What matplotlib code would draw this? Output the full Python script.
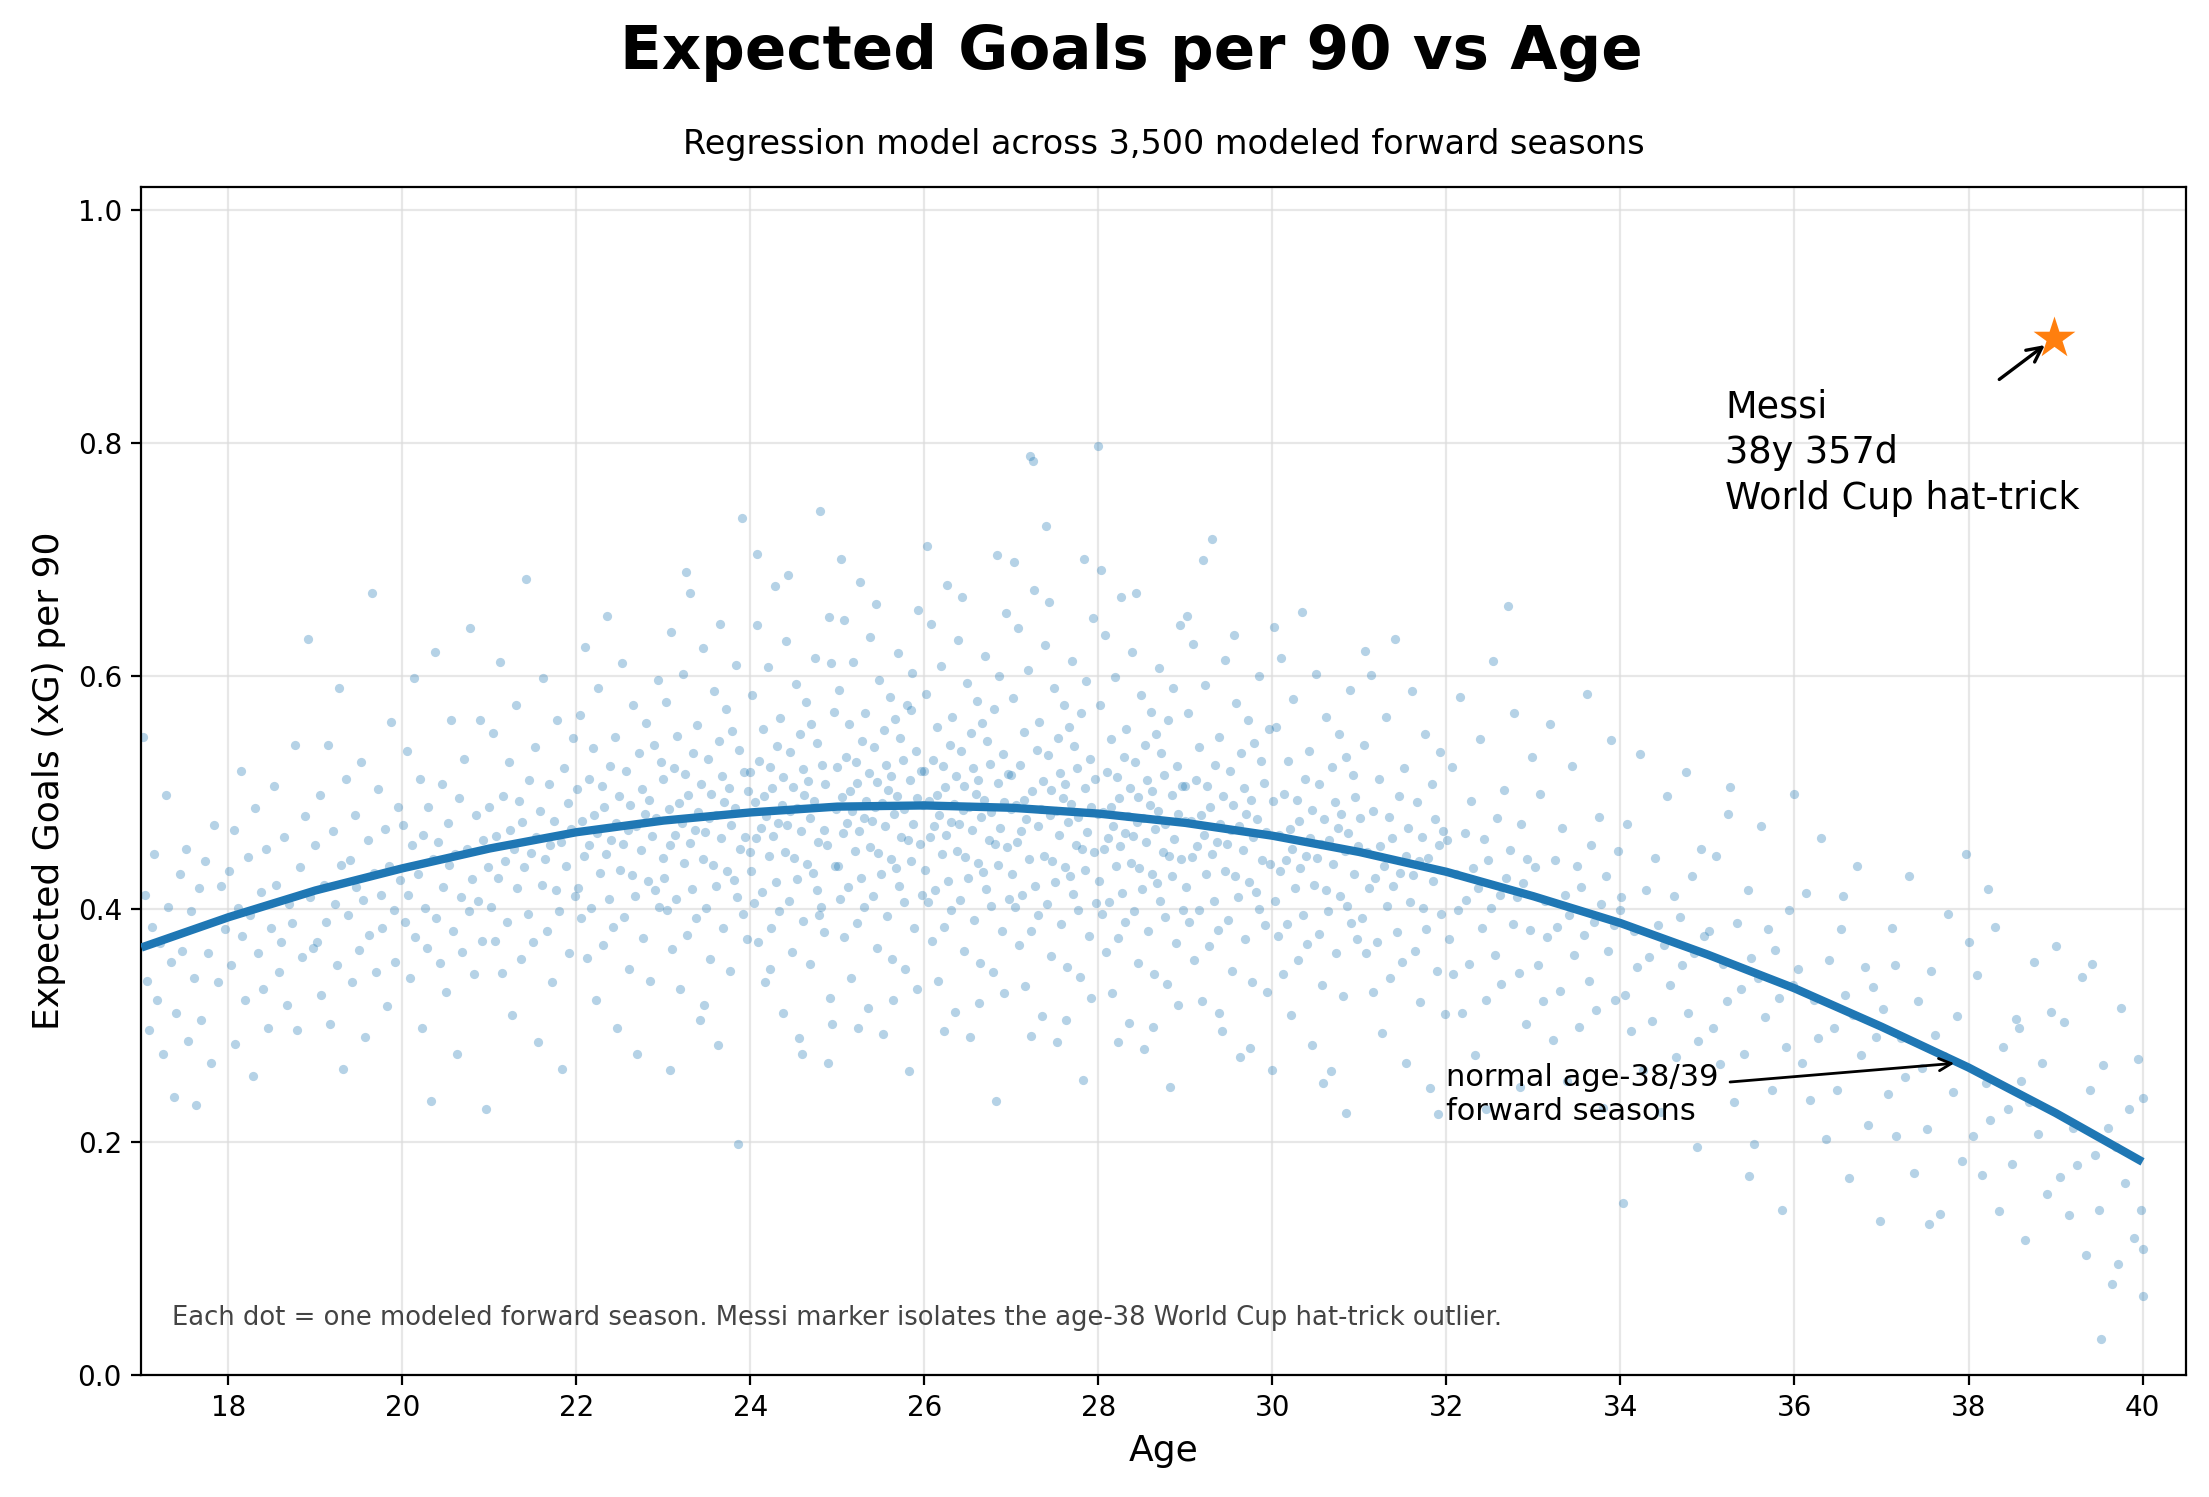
"""Expected goals per 90 vs age, with the Messi World Cup hat-trick outlier."""

import matplotlib

matplotlib.use("Agg")

import matplotlib.pyplot as plt
import numpy as np

TITLE = "Expected Goals per 90 vs Age"
SUBTITLE = "Regression model across 3,500 modeled forward seasons"
FOOTNOTE = "Each dot = one modeled forward season. Messi marker isolates the age-38 World Cup hat-trick outlier."
MESSI_LABEL = "Messi\n38y 357d\nWorld Cup hat-trick"
NORMAL_LABEL = "normal age-38/39\nforward seasons"

X_TICKS = [18, 20, 22, 24, 26, 28, 30, 32, 34, 36, 38, 40]
Y_TICKS = [0.0, 0.2, 0.4, 0.6, 0.8, 1.0]

# regression curve at whole ages
FIT_AGES = [17, 18, 19, 20, 21, 22, 23, 24, 25, 26, 27, 28,
            29, 30, 31, 32, 33, 34, 35, 36, 37, 38, 39, 40]
FIT_XG = [0.367, 0.393, 0.416, 0.435, 0.452, 0.466, 0.476, 0.483, 0.488, 0.489, 0.487, 0.482,
          0.474, 0.463, 0.449, 0.432, 0.411, 0.388, 0.361, 0.332, 0.299, 0.264, 0.225, 0.183]

MESSI_AGE = 38.98
MESSI_XG = 0.89

# modeled seasons as (age x100, xG per 90 x1000)
SEASONS_17_21 = [
    (1702, 548), (1704, 412), (1706, 338), (1709, 296), (1712, 385), (1715, 447), (1718, 322), (1721, 371),
    (1725, 276), (1728, 498), (1731, 402), (1734, 355), (1737, 239), (1740, 311), (1744, 430), (1747, 364),
    (1751, 452), (1754, 287), (1757, 398), (1760, 341), (1763, 232), (1766, 418), (1769, 305), (1773, 441),
    (1776, 362), (1780, 268), (1784, 472), (1788, 337), (1792, 420), (1796, 383),
    (1801, 433), (1803, 352), (1806, 468), (1808, 284), (1811, 401), (1814, 519), (1816, 377), (1819, 322),
    (1822, 445), (1825, 395), (1828, 257), (1831, 487), (1834, 362), (1837, 415), (1840, 331), (1843, 452),
    (1846, 298), (1849, 384), (1852, 506), (1855, 421), (1858, 346), (1861, 372), (1864, 462), (1867, 318),
    (1870, 404), (1873, 388), (1876, 541), (1879, 296), (1882, 436), (1885, 359), (1888, 480), (1891, 632),
    (1894, 410), (1897, 367),
    (1900, 455), (1902, 372), (1905, 498), (1907, 326), (1910, 421), (1912, 389), (1915, 541), (1917, 301),
    (1920, 467), (1922, 404), (1925, 352), (1927, 590), (1930, 438), (1932, 263), (1935, 512), (1937, 395),
    (1940, 442), (1942, 337), (1945, 481), (1947, 419), (1950, 365), (1952, 526), (1955, 408), (1957, 290),
    (1960, 459), (1962, 378), (1965, 671), (1967, 431), (1970, 346), (1972, 503), (1975, 412), (1977, 384),
    (1980, 469), (1982, 317), (1985, 437), (1987, 561), (1990, 399), (1992, 355), (1995, 488), (1997, 425),
    (2001, 472), (2003, 389), (2005, 536), (2007, 412), (2009, 341), (2011, 455), (2013, 598), (2015, 376),
    (2018, 430), (2020, 512), (2022, 298), (2024, 464), (2026, 401), (2028, 367), (2030, 488), (2033, 235),
    (2035, 443), (2037, 621), (2039, 392), (2041, 458), (2043, 354), (2045, 507), (2047, 419), (2050, 329),
    (2052, 474), (2054, 438), (2056, 562), (2058, 381), (2061, 447), (2063, 276), (2065, 495), (2067, 410),
    (2069, 363), (2071, 529), (2074, 452), (2076, 398), (2078, 641), (2080, 426), (2082, 344), (2085, 481),
    (2087, 407), (2089, 562), (2091, 373), (2093, 459), (2096, 228), (2098, 436),
    (2100, 488), (2102, 402), (2104, 551), (2106, 373), (2108, 463), (2110, 427), (2112, 612), (2114, 345),
    (2116, 497), (2118, 441), (2120, 389), (2122, 526), (2124, 468), (2126, 309), (2128, 452), (2130, 575),
    (2132, 418), (2134, 493), (2136, 357), (2138, 475), (2140, 436), (2142, 683), (2144, 396), (2146, 511),
    (2148, 448), (2150, 372), (2152, 539), (2154, 462), (2156, 286), (2158, 484), (2160, 421), (2162, 598),
    (2164, 443), (2166, 381), (2168, 507), (2170, 455), (2172, 337), (2174, 476), (2176, 416), (2178, 562),
    (2180, 398), (2182, 458), (2184, 263), (2186, 521), (2188, 437), (2190, 491), (2192, 362), (2194, 469),
    (2196, 547), (2198, 411),
]

SEASONS_22_25 = [
    (2201, 503), (2202, 418), (2204, 567), (2205, 392), (2207, 476), (2209, 446), (2210, 625), (2212, 358),
    (2214, 512), (2215, 455), (2217, 401), (2219, 538), (2220, 481), (2222, 322), (2224, 465), (2225, 590),
    (2227, 431), (2229, 506), (2230, 369), (2232, 488), (2234, 447), (2235, 652), (2237, 409), (2239, 523),
    (2240, 459), (2242, 385), (2244, 548), (2245, 474), (2247, 298), (2249, 497), (2250, 434), (2252, 611),
    (2254, 456), (2255, 393), (2257, 519), (2259, 468), (2260, 349), (2262, 489), (2264, 429), (2265, 575),
    (2267, 411), (2269, 471), (2270, 276), (2272, 534), (2274, 451), (2275, 503), (2277, 375), (2279, 482),
    (2280, 560), (2282, 424), (2284, 494), (2285, 338), (2287, 463), (2289, 541), (2290, 416), (2292, 478),
    (2294, 597), (2295, 402), (2297, 526), (2299, 444),
    (2300, 512), (2301, 427), (2303, 578), (2304, 399), (2306, 486), (2307, 455), (2309, 638), (2310, 366),
    (2312, 521), (2313, 464), (2315, 409), (2316, 549), (2318, 491), (2319, 331), (2321, 474), (2322, 602),
    (2324, 440), (2325, 516), (2327, 378), (2328, 498), (2330, 457), (2331, 671), (2333, 417), (2334, 534),
    (2336, 468), (2337, 392), (2339, 558), (2340, 483), (2342, 305), (2343, 507), (2345, 443), (2346, 624),
    (2348, 466), (2349, 401), (2351, 529), (2352, 478), (2354, 357), (2355, 499), (2357, 438), (2358, 587),
    (2360, 420), (2361, 481), (2363, 283), (2364, 544), (2366, 461), (2367, 514), (2369, 384), (2370, 492),
    (2372, 572), (2373, 433), (2375, 504), (2376, 347), (2378, 472), (2379, 553), (2381, 425), (2382, 487),
    (2384, 610), (2385, 410), (2387, 537), (2388, 452), (2390, 736), (2391, 396), (2393, 518), (2394, 462),
    (2396, 374), (2397, 501), (2399, 449), (2308, 262), (2326, 689), (2347, 318), (2365, 645), (2386, 198),
    (2400, 518), (2401, 433), (2402, 584), (2404, 405), (2405, 492), (2406, 461), (2408, 644), (2409, 372),
    (2410, 527), (2412, 470), (2413, 415), (2414, 555), (2416, 497), (2417, 337), (2418, 480), (2420, 608),
    (2421, 446), (2422, 522), (2424, 384), (2425, 504), (2426, 463), (2428, 677), (2429, 423), (2430, 540),
    (2432, 474), (2433, 398), (2434, 564), (2436, 489), (2437, 311), (2438, 513), (2440, 449), (2441, 630),
    (2442, 472), (2444, 407), (2445, 535), (2446, 484), (2448, 363), (2449, 505), (2450, 444), (2452, 593),
    (2453, 426), (2454, 487), (2456, 289), (2457, 550), (2458, 467), (2460, 520), (2461, 390), (2462, 498),
    (2464, 578), (2465, 439), (2466, 510), (2468, 353), (2469, 478), (2470, 559), (2472, 431), (2473, 493),
    (2474, 616), (2476, 416), (2477, 543), (2478, 458), (2480, 742), (2481, 402), (2482, 524), (2484, 468),
    (2485, 380), (2486, 507), (2488, 455), (2489, 268), (2490, 651), (2492, 324), (2493, 611), (2494, 301),
    (2496, 569), (2497, 437), (2498, 486), (2407, 705), (2423, 349), (2443, 687), (2459, 276), (2479, 395),
    (2500, 522), (2501, 437), (2502, 588), (2503, 409), (2505, 496), (2506, 465), (2507, 648), (2508, 376),
    (2510, 531), (2511, 474), (2512, 419), (2513, 559), (2515, 501), (2516, 341), (2517, 484), (2518, 612),
    (2520, 450), (2521, 526), (2522, 388), (2523, 508), (2525, 467), (2526, 681), (2527, 427), (2528, 544),
    (2530, 478), (2531, 402), (2532, 568), (2533, 493), (2535, 315), (2536, 517), (2537, 453), (2538, 634),
    (2540, 476), (2541, 411), (2542, 539), (2543, 488), (2545, 367), (2546, 509), (2547, 448), (2548, 597),
    (2550, 430), (2551, 491), (2552, 293), (2553, 554), (2555, 471), (2556, 524), (2557, 394), (2558, 502),
    (2560, 582), (2561, 443), (2562, 514), (2563, 357), (2565, 482), (2566, 563), (2567, 435), (2568, 497),
    (2570, 620), (2571, 420), (2572, 547), (2573, 462), (2575, 528), (2576, 406), (2577, 486), (2578, 349),
    (2580, 575), (2581, 459), (2582, 261), (2583, 511), (2585, 441), (2586, 603), (2587, 473), (2588, 384),
    (2590, 536), (2591, 495), (2592, 331), (2593, 657), (2595, 456), (2596, 519), (2597, 412), (2598, 489),
    (2504, 701), (2524, 298), (2544, 662), (2564, 322), (2584, 571),
]

SEASONS_26_29 = [
    (2600, 519), (2601, 434), (2602, 585), (2604, 406), (2605, 493), (2606, 462), (2607, 645), (2609, 373),
    (2610, 528), (2611, 471), (2612, 416), (2614, 556), (2615, 498), (2616, 338), (2617, 481), (2619, 609),
    (2620, 447), (2621, 523), (2622, 385), (2624, 505), (2625, 464), (2626, 678), (2627, 424), (2629, 541),
    (2630, 475), (2631, 399), (2632, 565), (2634, 490), (2635, 312), (2636, 514), (2637, 450), (2639, 631),
    (2640, 473), (2641, 408), (2642, 536), (2644, 485), (2645, 364), (2646, 506), (2647, 445), (2649, 594),
    (2650, 427), (2651, 488), (2652, 290), (2654, 551), (2655, 468), (2656, 521), (2657, 391), (2659, 499),
    (2660, 579), (2661, 440), (2662, 511), (2664, 354), (2665, 479), (2666, 560), (2667, 432), (2669, 494),
    (2670, 617), (2671, 417), (2672, 544), (2674, 459), (2675, 525), (2676, 403), (2677, 483), (2679, 346),
    (2680, 572), (2681, 456), (2682, 235), (2684, 508), (2685, 438), (2686, 600), (2687, 470), (2689, 381),
    (2690, 533), (2691, 492), (2692, 328), (2694, 654), (2695, 453), (2696, 516), (2697, 409), (2699, 486),
    (2603, 712), (2623, 295), (2643, 668), (2663, 319), (2683, 704),
    (2700, 515), (2701, 430), (2702, 581), (2704, 402), (2705, 489), (2706, 458), (2707, 641), (2709, 369),
    (2710, 524), (2711, 467), (2712, 412), (2714, 552), (2715, 494), (2716, 334), (2717, 477), (2719, 605),
    (2720, 443), (2721, 789), (2722, 381), (2724, 501), (2725, 785), (2726, 674), (2727, 420), (2729, 537),
    (2730, 471), (2731, 395), (2732, 561), (2734, 486), (2735, 308), (2736, 510), (2737, 446), (2739, 627),
    (2740, 729), (2741, 404), (2742, 532), (2744, 481), (2745, 360), (2746, 502), (2747, 441), (2749, 590),
    (2750, 423), (2751, 484), (2752, 286), (2754, 547), (2755, 464), (2756, 517), (2757, 387), (2759, 495),
    (2760, 575), (2761, 436), (2762, 507), (2764, 350), (2765, 475), (2766, 556), (2767, 428), (2769, 490),
    (2770, 613), (2771, 413), (2772, 540), (2774, 455), (2775, 521), (2776, 399), (2777, 479), (2779, 342),
    (2780, 568), (2781, 452), (2782, 253), (2784, 504), (2785, 434), (2786, 596), (2787, 466), (2789, 377),
    (2790, 529), (2791, 488), (2792, 324), (2794, 650), (2795, 449), (2796, 512), (2797, 405), (2799, 482),
    (2703, 698), (2723, 291), (2743, 664), (2763, 305), (2783, 701),
    (2800, 798), (2801, 424), (2802, 575), (2804, 396), (2805, 483), (2806, 452), (2807, 635), (2809, 363),
    (2810, 518), (2811, 461), (2812, 406), (2814, 546), (2815, 488), (2816, 328), (2817, 471), (2819, 599),
    (2820, 437), (2821, 513), (2822, 375), (2824, 495), (2825, 454), (2826, 668), (2827, 414), (2829, 531),
    (2830, 465), (2831, 389), (2832, 555), (2834, 480), (2835, 302), (2836, 504), (2837, 440), (2839, 621),
    (2840, 463), (2841, 398), (2842, 526), (2844, 475), (2845, 354), (2846, 496), (2847, 435), (2849, 584),
    (2850, 417), (2851, 478), (2852, 280), (2854, 541), (2855, 458), (2856, 511), (2857, 381), (2859, 489),
    (2860, 569), (2861, 430), (2862, 501), (2864, 344), (2865, 469), (2866, 550), (2867, 422), (2869, 484),
    (2870, 607), (2871, 407), (2872, 534), (2874, 449), (2875, 515), (2876, 393), (2877, 473), (2879, 336),
    (2880, 562), (2881, 446), (2882, 247), (2884, 498), (2885, 428), (2886, 590), (2887, 460), (2889, 371),
    (2890, 523), (2891, 482), (2892, 318), (2894, 644), (2895, 443), (2896, 506), (2897, 399), (2899, 476),
    (2803, 691), (2823, 286), (2843, 671), (2863, 299),
    (2900, 506), (2901, 419), (2903, 568), (2904, 389), (2906, 476), (2907, 445), (2909, 628), (2910, 356),
    (2912, 511), (2913, 454), (2915, 399), (2916, 539), (2918, 481), (2919, 321), (2921, 464), (2922, 592),
    (2924, 430), (2925, 506), (2927, 368), (2928, 488), (2930, 447), (2931, 718), (2933, 407), (2934, 524),
    (2936, 458), (2937, 382), (2939, 548), (2940, 473), (2942, 295), (2943, 497), (2945, 433), (2946, 614),
    (2948, 456), (2949, 391), (2951, 519), (2952, 468), (2954, 347), (2955, 489), (2957, 428), (2958, 577),
    (2960, 410), (2961, 471), (2963, 273), (2964, 534), (2966, 451), (2967, 504), (2969, 374), (2970, 482),
    (2972, 562), (2973, 423), (2975, 494), (2976, 337), (2978, 462), (2979, 543), (2981, 415), (2982, 477),
    (2984, 600), (2985, 400), (2987, 527), (2988, 442), (2990, 508), (2991, 386), (2993, 466), (2994, 329),
    (2996, 555), (2997, 439), (2999, 262), (2902, 652), (2920, 700), (2938, 311), (2956, 635), (2974, 281),
]

SEASONS_30_40 = [
    (3001, 493), (3003, 407), (3004, 556), (3006, 377), (3007, 464), (3009, 433), (3010, 616), (3012, 344),
    (3013, 499), (3015, 442), (3017, 387), (3018, 527), (3020, 469), (3021, 309), (3023, 452), (3024, 580),
    (3026, 418), (3028, 494), (3029, 356), (3031, 476), (3032, 435), (3034, 655), (3035, 395), (3037, 512),
    (3039, 446), (3040, 370), (3042, 536), (3043, 461), (3045, 283), (3046, 485), (3048, 421), (3050, 602),
    (3051, 444), (3053, 379), (3054, 507), (3056, 456), (3057, 335), (3059, 477), (3061, 416), (3062, 565),
    (3064, 398), (3065, 459), (3067, 261), (3068, 522), (3070, 439), (3072, 492), (3073, 362), (3075, 470),
    (3076, 550), (3078, 411), (3079, 482), (3081, 325), (3083, 450), (3084, 531), (3086, 403), (3087, 465),
    (3089, 588), (3090, 388), (3092, 515), (3094, 430), (3095, 496), (3097, 374), (3098, 454), (3085, 225),
    (3002, 642), (3058, 251),
    (3101, 478), (3103, 392), (3105, 541), (3107, 362), (3109, 449), (3111, 418), (3113, 601), (3115, 329),
    (3116, 484), (3118, 427), (3120, 372), (3122, 512), (3124, 454), (3126, 294), (3128, 437), (3130, 565),
    (3132, 403), (3134, 479), (3135, 341), (3137, 461), (3139, 420), (3141, 632), (3143, 380), (3145, 497),
    (3147, 431), (3149, 355), (3151, 521), (3153, 446), (3154, 268), (3156, 470), (3158, 406), (3160, 587),
    (3162, 429), (3164, 364), (3166, 492), (3168, 441), (3170, 320), (3172, 462), (3173, 401), (3175, 550),
    (3177, 383), (3179, 444), (3181, 246), (3183, 507), (3185, 424), (3187, 477), (3189, 347), (3191, 455),
    (3192, 535), (3194, 396), (3196, 467), (3198, 310), (3106, 622), (3190, 224),
    (3201, 459), (3203, 374), (3206, 522), (3208, 344), (3211, 430), (3213, 399), (3216, 582), (3218, 311),
    (3221, 465), (3223, 408), (3226, 353), (3228, 493), (3231, 435), (3233, 275), (3236, 418), (3238, 546),
    (3241, 384), (3243, 460), (3246, 322), (3248, 442), (3251, 401), (3253, 613), (3256, 361), (3258, 478),
    (3261, 412), (3263, 336), (3266, 502), (3268, 427), (3271, 660), (3273, 451), (3276, 387), (3278, 568),
    (3281, 410), (3283, 345), (3286, 473), (3288, 422), (3291, 301), (3293, 443), (3296, 382), (3298, 531),
    (3245, 228), (3285, 247),
    (3302, 436), (3305, 352), (3308, 499), (3311, 321), (3313, 407), (3316, 376), (3319, 559), (3322, 288),
    (3325, 442), (3327, 385), (3330, 330), (3333, 470), (3336, 412), (3338, 252), (3341, 395), (3344, 523),
    (3347, 361), (3350, 437), (3352, 299), (3355, 419), (3358, 378), (3361, 585), (3364, 338), (3366, 455),
    (3369, 389), (3372, 313), (3375, 479), (3378, 404), (3380, 229), (3383, 428), (3386, 364), (3389, 545),
    (3392, 386), (3394, 322), (3397, 450), (3399, 399),
    (3401, 410), (3405, 326), (3408, 473), (3412, 295), (3415, 381), (3419, 350), (3422, 533), (3426, 262),
    (3429, 416), (3433, 359), (3436, 304), (3440, 444), (3443, 386), (3447, 226), (3450, 369), (3454, 497),
    (3457, 335), (3461, 411), (3464, 273), (3468, 393), (3471, 352), (3475, 518), (3478, 311), (3482, 428),
    (3485, 362), (3489, 287), (3492, 452), (3496, 377), (3403, 148), (3488, 196),
    (3502, 381), (3506, 298), (3510, 446), (3514, 267), (3518, 353), (3522, 321), (3526, 505), (3530, 234),
    (3534, 388), (3538, 331), (3542, 276), (3546, 416), (3550, 358), (3554, 198), (3558, 341), (3562, 471),
    (3566, 307), (3570, 383), (3574, 245), (3578, 365), (3582, 324), (3586, 142), (3590, 282), (3594, 399),
    (3598, 335), (3524, 482), (3548, 171),
    (3600, 499), (3604, 349), (3609, 268), (3613, 414), (3618, 236), (3622, 322), (3627, 289), (3631, 461),
    (3636, 203), (3640, 356), (3645, 298), (3649, 245), (3654, 383), (3658, 326), (3663, 169), (3667, 309),
    (3672, 437), (3676, 275), (3681, 350), (3685, 215), (3690, 333), (3694, 290), (3698, 132), (3656, 411),
    (3702, 314), (3707, 241), (3712, 384), (3717, 205), (3722, 289), (3727, 256), (3732, 428), (3737, 173),
    (3742, 321), (3747, 264), (3752, 211), (3757, 347), (3762, 292), (3767, 138), (3772, 274), (3777, 396),
    (3782, 243), (3787, 308), (3792, 184), (3797, 447), (3715, 352), (3755, 130),
    (3801, 372), (3805, 205), (3810, 343), (3815, 172), (3820, 251), (3825, 219), (3830, 385), (3835, 141),
    (3840, 282), (3845, 228), (3850, 181), (3855, 306), (3860, 252), (3865, 116), (3870, 234), (3875, 355),
    (3880, 207), (3885, 268), (3890, 155), (3895, 312), (3822, 417), (3858, 298),
    (3901, 368), (3905, 170), (3910, 303), (3915, 137), (3920, 212), (3925, 180), (3930, 342), (3935, 103),
    (3940, 245), (3945, 189), (3950, 142), (3955, 266), (3960, 212), (3965, 78), (3970, 196), (3975, 315),
    (3980, 165), (3985, 228), (3990, 118), (3995, 271), (3952, 31), (3942, 353), (3972, 95),
    (4000, 238), (4001, 108), (4000, 68), (3998, 142),
]

BLUE = "#1f77b4"
ORANGE = "#ff7f0e"


def season_arrays():
    seasons = SEASONS_17_21 + SEASONS_22_25 + SEASONS_26_29 + SEASONS_30_40
    raw = np.array(seasons, dtype=float)
    return raw[:, 0] / 100.0, raw[:, 1] / 1000.0


def main() -> None:
    ages, xg = season_arrays()

    fig = plt.figure(figsize=(11.045, 7.485), dpi=200)
    ax = fig.add_axes([0.064, 0.0815, 0.9256, 0.7936])

    ax.scatter(ages, xg, s=11, color=BLUE, alpha=0.33, linewidths=0, zorder=2)
    ax.plot(FIT_AGES, FIT_XG, color=BLUE, lw=3.0, solid_capstyle="butt", zorder=3)
    ax.scatter([MESSI_AGE], [MESSI_XG], marker="*", s=250, color=ORANGE, linewidths=0, zorder=5)

    ax.annotate(
        MESSI_LABEL,
        xy=(MESSI_AGE, MESSI_XG),
        xytext=(35.2, 0.792),
        ha="left",
        va="center",
        fontsize=13.2,
        linespacing=1.3,
        arrowprops=dict(arrowstyle="->", color="black", lw=1.2, shrinkB=4),
    )
    ax.annotate(
        NORMAL_LABEL,
        xy=(37.9, 0.268),
        xytext=(32.0, 0.241),
        ha="left",
        va="center",
        fontsize=11,
        arrowprops=dict(arrowstyle="->", color="black", lw=1.0),
    )
    ax.text(0.015, 0.037, FOOTNOTE, transform=ax.transAxes, fontsize=9.3, color="#444444", va="bottom")

    ax.set_xlim(17.0, 40.5)
    ax.set_ylim(0.0, 1.02)
    ax.set_xticks(X_TICKS)
    ax.set_yticks(Y_TICKS)
    ax.tick_params(labelsize=10)
    ax.grid(color="#dddddd", alpha=0.7, lw=0.8)
    ax.set_axisbelow(True)
    ax.set_xlabel("Age", fontsize=13)
    ax.set_ylabel("Expected Goals (xG) per 90", fontsize=13)
    ax.set_title(SUBTITLE, fontsize=12, pad=12)

    fig.text(0.512, 0.965, TITLE, ha="center", va="center", fontsize=22, fontweight="bold")

    fig.savefig("out.png", dpi=200)
    plt.close(fig)


if __name__ == "__main__":
    main()
